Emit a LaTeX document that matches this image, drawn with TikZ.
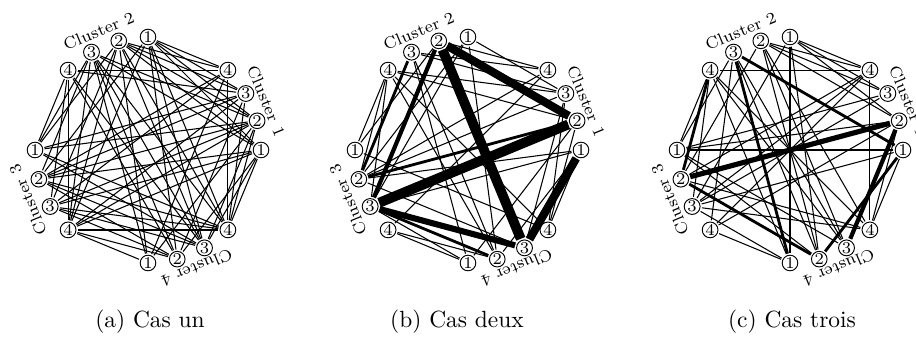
\documentclass[tikz,border=0pt]{standalone}
\usepackage{tikz}

\begin{document}
\begin{tikzpicture}[x=0.015cm,y=0.015cm,
  e0/.style={black,line width=0.45pt,shorten <=0.6pt,shorten >=0.6pt},
  e1/.style={e0,line width=1.2pt},
  e2/.style={e0,line width=1.8pt},
  e3/.style={e0,line width=2.6pt},
  e4/.style={e0,line width=3.5pt},
  e5/.style={e0,line width=4.2pt},
  vertex/.style={circle,draw=black,line width=0.4pt,inner sep=0.2pt,minimum size=6.4pt,font=\scriptsize},
  cluster/.style={font=\scriptsize,inner sep=0pt},
  caption/.style={font=\normalsize,inner sep=0pt}]
\useasboundingbox (0,0) rectangle (916,347);

% (a) Cas un
\begin{scope}[shift={(148,197)}]
\node[vertex] (a11) at (0:113) {1};
\node[vertex] (a12) at (15:113) {2};
\node[vertex] (a13) at (30:113) {3};
\node[vertex] (a14) at (45:113) {4};
\node[vertex] (a21) at (90:113) {1};
\node[vertex] (a22) at (105:113) {2};
\node[vertex] (a23) at (120:113) {3};
\node[vertex] (a24) at (135:113) {4};
\node[vertex] (a31) at (180:113) {1};
\node[vertex] (a32) at (195:113) {2};
\node[vertex] (a33) at (210:113) {3};
\node[vertex] (a34) at (225:113) {4};
\node[vertex] (a41) at (270:113) {1};
\node[vertex] (a42) at (285:113) {2};
\node[vertex] (a43) at (300:113) {3};
\node[vertex] (a44) at (315:113) {4};
\node[cluster,rotate=-67.5] (a1c) at (22.5:128) {Cluster 1};
\node[cluster,rotate=22.5] (a2c) at (112.5:129) {Cluster 2};
\node[cluster,rotate=112.5] (a3c) at (202.5:130) {Cluster 3};
\node[cluster,rotate=202.5] (a4c) at (292.5:128) {Cluster 4};
\end{scope}
\draw[e0] (a11) -- (a21);
\draw[e0] (a11) -- (a22);
\draw[e0] (a12) -- (a21);
\draw[e0] (a12) -- (a22);
\draw[e0] (a12) -- (a23);
\draw[e0] (a13) -- (a21);
\draw[e0] (a13) -- (a22);
\draw[e0] (a13) -- (a24);
\draw[e0] (a14) -- (a21);
\draw[e0] (a14) -- (a22);
\draw[e0] (a14) -- (a24);
\draw[e0] (a11) -- (a23);
\draw[e0] (a11) -- (a32);
\draw[e0] (a11) -- (a33);
\draw[e0] (a12) -- (a31);
\draw[e0] (a12) -- (a32);
\draw[e0] (a12) -- (a33);
\draw[e0] (a12) -- (a34);
\draw[e0] (a13) -- (a31);
\draw[e0] (a13) -- (a32);
\draw[e0] (a13) -- (a34);
\draw[e0] (a14) -- (a32);
\draw[e0] (a14) -- (a33);
\draw[e0] (a11) -- (a34);
\draw[e0] (a11) -- (a44);
\draw[e0] (a12) -- (a44);
\draw[e0] (a11) -- (a43);
\draw[e0] (a12) -- (a43);
\draw[e0] (a13) -- (a42);
\draw[e0] (a14) -- (a44);
\draw[e0] (a13) -- (a44);
\draw[e0] (a11) -- (a42);
\draw[e0] (a14) -- (a41);
\draw[e0] (a12) -- (a41);
\draw[e0] (a24) -- (a31);
\draw[e0] (a24) -- (a34);
\draw[e0] (a23) -- (a31);
\draw[e0] (a23) -- (a32);
\draw[e0] (a22) -- (a33);
\draw[e0] (a21) -- (a34);
\draw[e0] (a23) -- (a34);
\draw[e0] (a22) -- (a31);
\draw[e0] (a24) -- (a33);
\draw[e0] (a21) -- (a32);
\draw[e0] (a22) -- (a34);
\draw[e0] (a21) -- (a42);
\draw[e0] (a21) -- (a43);
\draw[e0] (a22) -- (a41);
\draw[e0] (a22) -- (a43);
\draw[e0] (a22) -- (a44);
\draw[e0] (a23) -- (a42);
\draw[e0] (a23) -- (a43);
\draw[e0] (a23) -- (a44);
\draw[e0] (a24) -- (a43);
\draw[e0] (a24) -- (a42);
\draw[e0] (a21) -- (a44);
\draw[e0] (a23) -- (a41);
\draw[e1] (a34) -- (a44);
\draw[e0] (a34) -- (a41);
\draw[e0] (a34) -- (a42);
\draw[e0] (a32) -- (a43);
\draw[e0] (a32) -- (a42);
\draw[e0] (a33) -- (a43);
\draw[e0] (a33) -- (a44);
\draw[e0] (a31) -- (a44);
\draw[e0] (a32) -- (a44);
\draw[e0] (a31) -- (a43);
\draw[e0] (a33) -- (a42);
\node[caption] (acap) at (150,25) {(a) Cas un};

% (b) Cas deux
\begin{scope}[shift={(468,197)}]
\node[vertex] (b11) at (0:113) {1};
\node[vertex] (b12) at (15:113) {2};
\node[vertex] (b13) at (30:113) {3};
\node[vertex] (b14) at (45:113) {4};
\node[vertex] (b21) at (90:113) {1};
\node[vertex] (b22) at (105:113) {2};
\node[vertex] (b23) at (120:113) {3};
\node[vertex] (b24) at (135:113) {4};
\node[vertex] (b31) at (180:113) {1};
\node[vertex] (b32) at (195:113) {2};
\node[vertex] (b33) at (210:113) {3};
\node[vertex] (b34) at (225:113) {4};
\node[vertex] (b41) at (270:113) {1};
\node[vertex] (b42) at (285:113) {2};
\node[vertex] (b43) at (300:113) {3};
\node[vertex] (b44) at (315:113) {4};
\node[cluster,rotate=-67.5] (b1c) at (22.5:128) {Cluster 1};
\node[cluster,rotate=22.5] (b2c) at (112.5:129) {Cluster 2};
\node[cluster,rotate=112.5] (b3c) at (202.5:130) {Cluster 3};
\node[cluster,rotate=202.5] (b4c) at (292.5:128) {Cluster 4};
\end{scope}
\draw[e0] (b23) -- (b14);
\draw[e0] (b23) -- (b13);
\draw[e0] (b24) -- (b13);
\draw[e0] (b24) -- (b12);
\draw[e0] (b22) -- (b14);
\draw[e0] (b21) -- (b13);
\draw[e0] (b31) -- (b24);
\draw[e0] (b32) -- (b24);
\draw[e0] (b33) -- (b24);
\draw[e0] (b34) -- (b41);
\draw[e0] (b34) -- (b42);
\draw[e0] (b33) -- (b41);
\draw[e0] (b11) -- (b44);
\draw[e0] (b12) -- (b44);
\draw[e0] (b13) -- (b44);
\draw[e0] (b11) -- (b42);
\draw[e0] (b12) -- (b41);
\draw[e0] (b13) -- (b32);
\draw[e0] (b14) -- (b32);
\draw[e0] (b11) -- (b33);
\draw[e0] (b14) -- (b34);
\draw[e0] (b24) -- (b42);
\draw[e0] (b23) -- (b42);
\draw[e0] (b23) -- (b41);
\draw[e0] (b21) -- (b42);
\draw[e0] (b24) -- (b44);
\draw[e0] (b32) -- (b43);
\draw[e0] (b31) -- (b44);
\draw[e0] (b32) -- (b11);
\draw[e0] (b21) -- (b32);
\draw[e0] (b22) -- (b31);
\draw[e0] (b21) -- (b33);
\draw[e0] (b13) -- (b43);
\draw[e1] (b32) -- (b23);
\draw[e1] (b32) -- (b12);
\draw[e1] (b33) -- (b42);
\draw[e2] (b22) -- (b33);
\draw[e3] (b33) -- (b43);
\draw[e4] (b11) -- (b43);
\draw[e4] (b22) -- (b12);
\draw[e5] (b33) -- (b12);
\draw[e5] (b22) -- (b43);
\node[caption] (bcap) at (457,25) {(b) Cas deux};

% (c) Cas trois
\begin{scope}[shift={(790,197)}]
\node[vertex] (c11) at (0:113) {1};
\node[vertex] (c12) at (15:113) {2};
\node[vertex] (c13) at (30:113) {3};
\node[vertex] (c14) at (45:113) {4};
\node[vertex] (c21) at (90:113) {1};
\node[vertex] (c22) at (105:113) {2};
\node[vertex] (c23) at (120:113) {3};
\node[vertex] (c24) at (135:113) {4};
\node[vertex] (c31) at (180:113) {1};
\node[vertex] (c32) at (195:113) {2};
\node[vertex] (c33) at (210:113) {3};
\node[vertex] (c34) at (225:113) {4};
\node[vertex] (c41) at (270:113) {1};
\node[vertex] (c42) at (285:113) {2};
\node[vertex] (c43) at (300:113) {3};
\node[vertex] (c44) at (315:113) {4};
\node[cluster,rotate=-67.5] (c1c) at (22.5:128) {Cluster 1};
\node[cluster,rotate=22.5] (c2c) at (112.5:129) {Cluster 2};
\node[cluster,rotate=112.5] (c3c) at (202.5:130) {Cluster 3};
\node[cluster,rotate=202.5] (c4c) at (292.5:128) {Cluster 4};
\end{scope}
\draw[e0] (c11) -- (c31);
\draw[e0] (c21) -- (c41);
\draw[e0] (c24) -- (c44);
\draw[e0] (c23) -- (c43);
\draw[e0] (c13) -- (c33);
\draw[e0] (c14) -- (c34);
\draw[e0] (c24) -- (c14);
\draw[e0] (c14) -- (c44);
\draw[e0] (c22) -- (c13);
\draw[e0] (c22) -- (c14);
\draw[e0] (c21) -- (c14);
\draw[e0] (c21) -- (c13);
\draw[e0] (c22) -- (c12);
\draw[e0] (c21) -- (c12);
\draw[e0] (c24) -- (c31);
\draw[e0] (c24) -- (c33);
\draw[e0] (c23) -- (c34);
\draw[e0] (c31) -- (c13);
\draw[e0] (c31) -- (c12);
\draw[e0] (c33) -- (c11);
\draw[e0] (c33) -- (c14);
\draw[e0] (c34) -- (c12);
\draw[e0] (c32) -- (c14);
\draw[e0] (c41) -- (c24);
\draw[e0] (c41) -- (c33);
\draw[e0] (c34) -- (c41);
\draw[e0] (c31) -- (c42);
\draw[e0] (c42) -- (c23);
\draw[e0] (c42) -- (c22);
\draw[e0] (c42) -- (c21);
\draw[e0] (c43) -- (c22);
\draw[e0] (c43) -- (c24);
\draw[e0] (c43) -- (c31);
\draw[e0] (c44) -- (c22);
\draw[e0] (c44) -- (c11);
\draw[e0] (c44) -- (c12);
\draw[e0] (c44) -- (c32);
\draw[e0] (c44) -- (c33);
\draw[e0] (c22) -- (c32);
\draw[e0] (c21) -- (c33);
\draw[e0] (c23) -- (c31);
\draw[e1] (c23) -- (c11);
\draw[e1] (c23) -- (c41);
\draw[e1] (c32) -- (c42);
\draw[e1] (c24) -- (c32);
\draw[e1] (c11) -- (c42);
\draw[e2] (c12) -- (c43);
\draw[e0,line width=2.2pt] (c12) -- (c32);
\node[caption] (ccap) at (792,25) {(c) Cas trois};
\end{tikzpicture}
\end{document}
